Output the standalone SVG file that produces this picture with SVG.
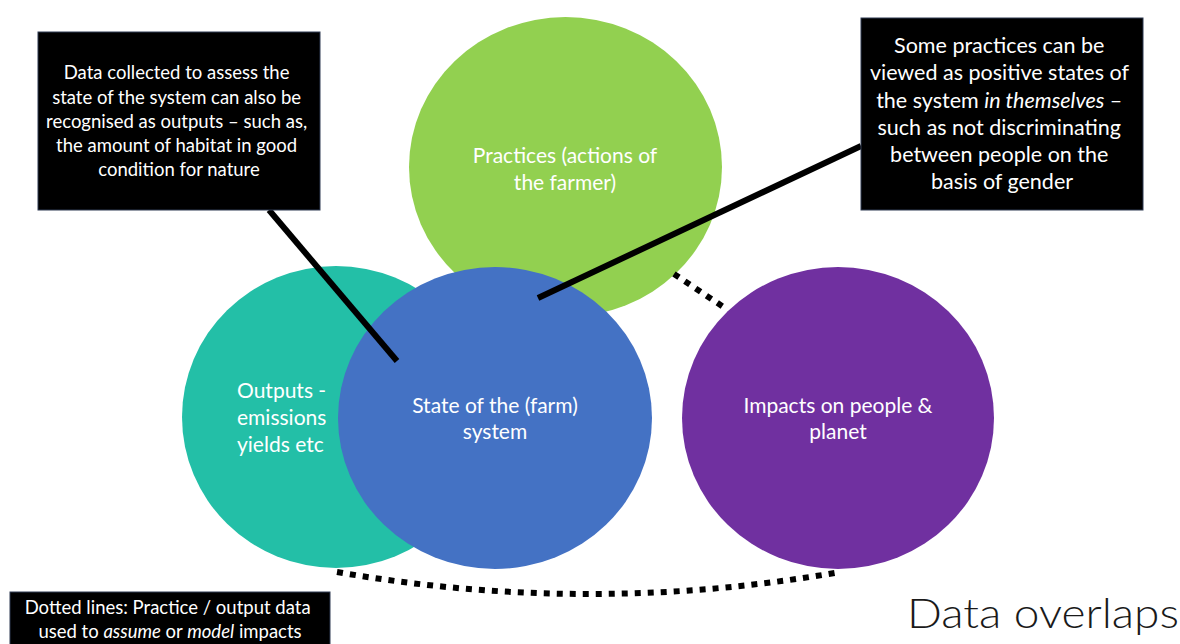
<svg xmlns="http://www.w3.org/2000/svg" width="1180" height="644" viewBox="0 0 1180 644">
  <style>
    .ct { font-family: Lato, "Liberation Sans", sans-serif; font-size: 21px; fill: #ffffff; }
    .bt { font-family: Lato, "Liberation Sans", sans-serif; fill: #ffffff; text-anchor: middle; }
    .box { fill: #000000; stroke: #2e3a52; stroke-width: 1; }
    .lead { stroke: #000000; stroke-width: 6; fill: none; }
    .dot { stroke: #000000; stroke-width: 6; fill: none; stroke-dasharray: 6 7; }
  </style>
  <rect width="1180" height="644" fill="#ffffff"/>

  <g id="outputs">
    <ellipse cx="336" cy="417" rx="154" ry="151" fill="#23bfa7"/>
    <text class="ct" x="237" y="398">Outputs -</text>
    <text class="ct" x="237" y="425">emissions</text>
    <text class="ct" x="237" y="452">yields etc</text>
  </g>

  <g id="practices">
    <ellipse cx="565.5" cy="167" rx="156.5" ry="150" fill="#92d050"/>
    <text class="ct" x="565" y="163" text-anchor="middle">Practices (actions of</text>
    <text class="ct" x="565" y="190" text-anchor="middle">the farmer)</text>
  </g>

  <g id="state">
    <ellipse cx="495" cy="418" rx="157" ry="151" fill="#4472c4"/>
    <text class="ct" x="495" y="413" text-anchor="middle">State of the (farm)</text>
    <text class="ct" x="495" y="439" text-anchor="middle">system</text>
  </g>

  <g id="impacts">
    <ellipse cx="838" cy="418" rx="156" ry="151" fill="#7030a0"/>
    <text class="ct" x="838" y="413" text-anchor="middle">Impacts on people &amp;</text>
    <text class="ct" x="838" y="439" text-anchor="middle">planet</text>
  </g>

  <g id="connectors">
    <line class="lead" x1="269" y1="210" x2="397" y2="361"/>
    <line class="lead" x1="538" y1="298" x2="861" y2="146"/>
    <line class="dot" x1="674" y1="274" x2="728" y2="310"/>
    <path class="dot" d="M337,572 Q589,616 840,572"/>
  </g>

  <g id="note-state-outputs">
    <rect class="box" x="38" y="32" width="282" height="178"/>
    <text class="bt" font-size="18.5" x="179">
      <tspan x="179" y="79">Data collected to assess the</tspan>
      <tspan x="179" y="103.5">state of the system can also be</tspan>
      <tspan x="179" y="128">recognised as outputs – such as,</tspan>
      <tspan x="179" y="152">the amount of habitat in good</tspan>
      <tspan x="179" y="176">condition for nature</tspan>
    </text>
  </g>

  <g id="note-practices-states">
    <rect class="box" x="861" y="18" width="282" height="192"/>
    <text class="bt" font-size="21.5" x="1002">
      <tspan x="1002" y="53">Some practices can be</tspan>
      <tspan x="1002" y="80">viewed as positive states of</tspan>
      <tspan x="1002" y="108">the system <tspan font-style="italic">in themselves</tspan> –</tspan>
      <tspan x="1002" y="135">such as not discriminating</tspan>
      <tspan x="1002" y="162">between people on the</tspan>
      <tspan x="1002" y="189">basis of gender</tspan>
    </text>
  </g>

  <g id="note-dotted">
    <rect class="box" x="10" y="592" width="320" height="60"/>
    <text class="bt" font-size="18.5" x="170">
      <tspan x="170" y="614">Dotted lines: Practice / output data</tspan>
      <tspan x="170" y="638">used to <tspan font-style="italic">assume</tspan> or <tspan font-style="italic">model</tspan> impacts</tspan>
    </text>
  </g>

  <g id="title">
    <text x="907" y="628" font-family="Lato, 'Liberation Sans', sans-serif" font-weight="300" font-size="42" fill="#1a1a1a" textLength="272" lengthAdjust="spacingAndGlyphs">Data overlaps</text>
  </g>
</svg>
